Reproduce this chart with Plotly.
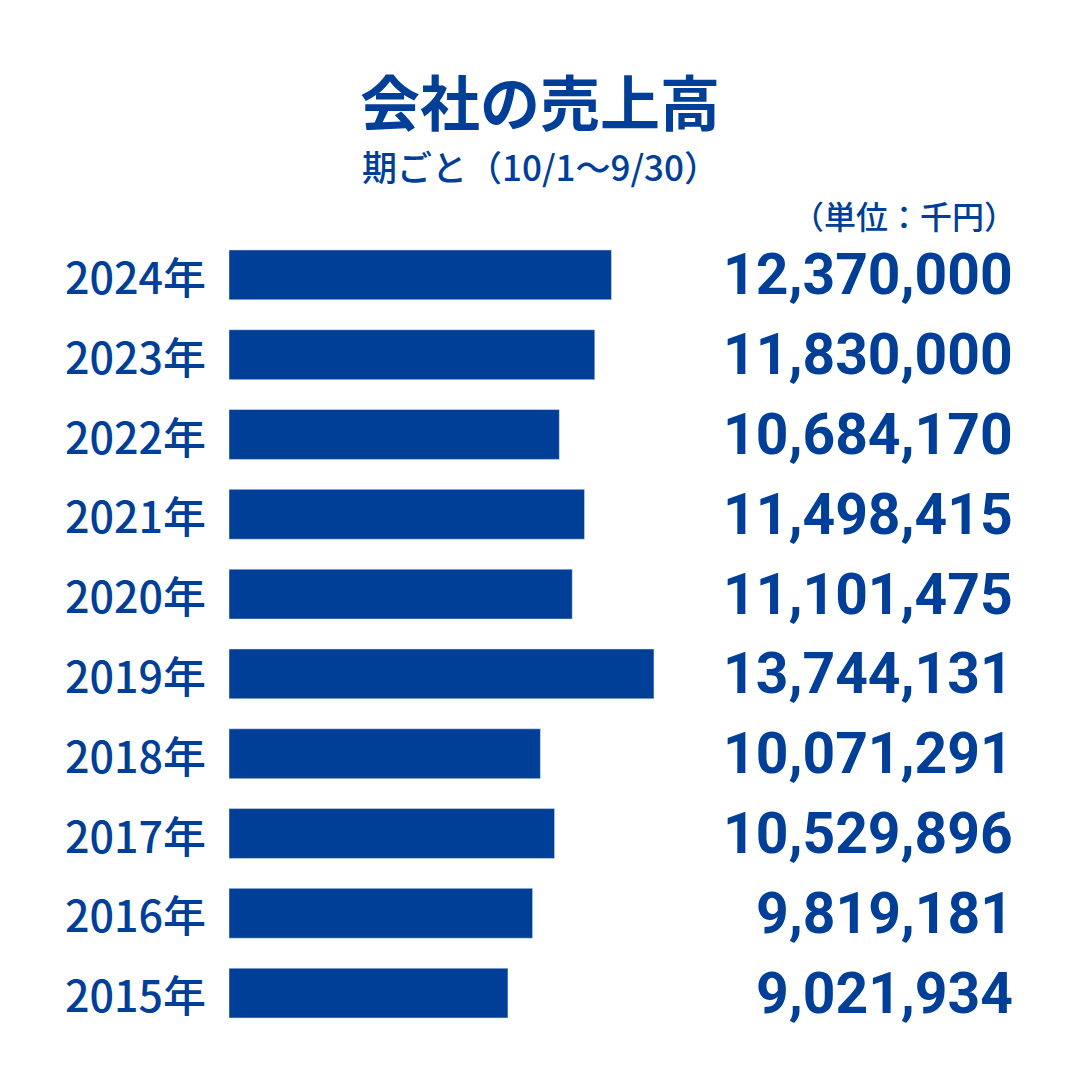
import plotly.graph_objects as go

years = ["2024年","2023年","2022年","2021年","2020年","2019年","2018年","2017年","2016年","2015年"]
sales = [12370000,11830000,10684170,11498415,11101475,13744131,10071291,10529896,9819181,9021934]
C = "#003f98"
F = "Noto Sans CJK JP"
O = 8  # page offset compensation

fig = go.Figure(go.Bar(x=sales, y=years, orientation="h", marker_color=C, width=0.625, hoverinfo="skip"))
for y, v in zip(years, sales):
    fig.add_annotation(x=(1015-O)/1080, xref="paper", y=y, yref="y", text=f"{v:,}", showarrow=False,
                       xanchor="right", font=dict(family="Roboto", size=57, color=C, weight="bold"))
    fig.add_annotation(x=(208-O)/1080, xref="paper", y=y, yref="y", text=y, showarrow=False,
                       xanchor="right", font=dict(family=F, size=43, color=C, weight=500))
fig.add_annotation(x=(540-O)/1080, xref="paper", y=1-(100-O)/1080, yref="paper", text="<b>会社の売上高</b>", showarrow=False,
                   font=dict(family=F, size=60, color=C), yanchor="middle")
fig.add_annotation(x=(540-O)/1080, xref="paper", y=1-(165-O)/1080, yref="paper", text="期ごと（10/1〜9/30）", showarrow=False,
                   font=dict(family=F, size=35, color=C, weight=500), yanchor="middle")
fig.add_annotation(x=(1018-O)/1080, xref="paper", y=1-(215-O)/1080, yref="paper", text="（単位：千円）", showarrow=False,
                   xanchor="right", font=dict(family=F, size=32, color=C, weight=500), yanchor="middle")
fig.update_layout(width=1080, height=1080, margin=dict(l=0, r=0, t=0, b=0), paper_bgcolor="white",
                  plot_bgcolor="white", showlegend=False,
                  xaxis=dict(domain=[(229-O)/1080, 1], range=[0, (1080-229+O)/30.92e-6], visible=False),
                  yaxis=dict(domain=[1-(1033-O)/1080, 1-(235-O)/1080], autorange="reversed", visible=False))
fig.write_html("out.html")
